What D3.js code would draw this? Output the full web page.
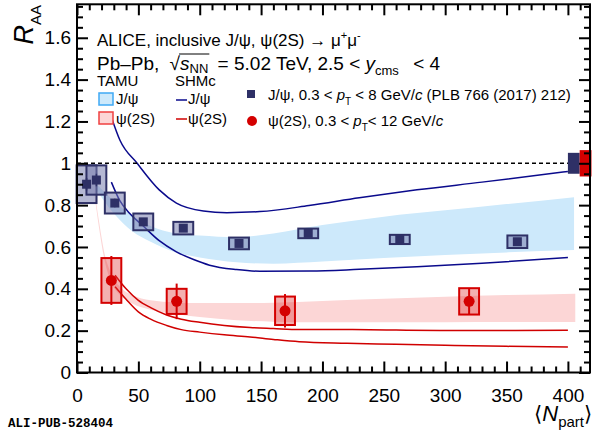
<!DOCTYPE html>
<html>
<head>
<meta charset="utf-8">
<script src="https://cdn.jsdelivr.net/npm/d3@7"></script>
<style>
  body { margin: 0; background: #fff; }
  svg text { font-family: "Liberation Sans", Arial, sans-serif; fill: #000; white-space: pre; }
</style>
</head>
<body>
<div id="chart"></div>
<script>
// ----------------------------------------------------------------
// Data
// ----------------------------------------------------------------

// ALICE inclusive J/psi (PLB 766 (2017) 212)
const jpsiNpart = [7.8, 15.8, 30.8, 54.0, 86.6, 132.0, 188.4, 263.0, 358.8];
const jpsiRaa   = [0.90, 0.92, 0.81, 0.72, 0.69, 0.617, 0.665, 0.636, 0.625];
const jpsiStat  = [0.03, 0.03, 0.02, 0.015, 0.015, 0.012, 0.01, 0.01, 0.012];
const jpsiSyst  = [0.09, 0.07, 0.05, 0.04, 0.03, 0.028, 0.023, 0.022, 0.03];

// ALICE psi(2S)
const psiNpart = [28.0, 81.2, 169.5, 319.5];
const psiRaa   = [0.44, 0.34, 0.295, 0.34];
const psiStat  = [0.117, 0.085, 0.08, 0.062];
const psiSyst  = [0.107, 0.06, 0.068, 0.063];

// global (correlated) uncertainties at R_AA = 1
const jpsiGlobal = 0.05;
const psiGlobal = 0.063;

// TAMU transport bands
const tamuJpsiNpart = [16, 30, 45, 60, 80, 100, 130, 160, 200, 250, 300, 350, 405];
const tamuJpsiHigh  = [0.90, 0.82, 0.75, 0.70, 0.665, 0.655, 0.647, 0.665, 0.705, 0.745, 0.775, 0.805, 0.838];
const tamuJpsiLow   = [0.87, 0.76, 0.675, 0.625, 0.575, 0.55, 0.527, 0.52, 0.53, 0.547, 0.562, 0.574, 0.585];

const tamuPsiNpart = [14, 18, 22, 28, 35, 45, 60, 80, 100, 130, 160, 200, 250, 300, 350, 406];
const tamuPsiHigh  = [0.88, 0.72, 0.58, 0.47, 0.41, 0.37, 0.345, 0.335, 0.332, 0.332, 0.334, 0.342, 0.352, 0.362, 0.37, 0.377];
const tamuPsiLow   = [0.86, 0.69, 0.55, 0.43, 0.37, 0.33, 0.30, 0.28, 0.265, 0.25, 0.243, 0.24, 0.24, 0.24, 0.241, 0.241];

// SHMc curves (upper / lower edge)
const shmJpsiNpart = [28, 35, 49, 67, 81, 103, 122, 149, 189, 230, 277, 330, 400];
const shmJpsiHigh  = [1.22, 1.11, 1.0, 0.873, 0.81, 0.772, 0.764, 0.769, 0.798, 0.835, 0.873, 0.91, 0.961];
const shmJpsiLowNpart = [28, 35, 43, 54, 67, 81, 95, 108, 130, 149, 190, 230, 277, 330, 400];
const shmJpsiLow   = [0.91, 0.82, 0.76, 0.70, 0.63, 0.577, 0.54, 0.513, 0.492, 0.484, 0.485, 0.493, 0.505, 0.522, 0.55];

const shmPsiNpart = [31, 40, 50, 60, 73, 85, 100, 120, 141, 160, 181, 220, 260, 300, 350, 400];
const shmPsiHigh  = [0.465, 0.40, 0.345, 0.31, 0.275, 0.255, 0.24, 0.225, 0.215, 0.21, 0.205, 0.205, 0.203, 0.201, 0.201, 0.202];
const shmPsiLow   = [0.41, 0.35, 0.29, 0.255, 0.225, 0.205, 0.193, 0.18, 0.17, 0.158, 0.147, 0.14, 0.135, 0.13, 0.125, 0.122];

// axes
const xMajor = [0, 50, 100, 150, 200, 250, 300, 350, 400];
const yMajor = [0, 0.2, 0.4, 0.6, 0.8, 1, 1.2, 1.4, 1.6];

// ----------------------------------------------------------------
// Setup
// ----------------------------------------------------------------

const width = 592, height = 430;
const navy = "#2e3066", red = "#d40000", lineNavy = "#0a0a8c", lineRed = "#d00000";

const svg = d3.select("#chart").append("svg")
  .attr("width", width)
  .attr("height", height);

const x = d3.scaleLinear().domain([0, 418]).range([77, 590]);
const y = d3.scaleLinear().domain([0, 1.76]).range([372.5, 4.3]);

// write a run of text pieces one after another, returns x positions
function richText(g, x0, y0, runs) {
  let cx = x0;
  const pos = [];
  runs.forEach(function (r) {
    const t = g.append("text")
      .attr("x", cx)
      .attr("y", y0 + (r.dy || 0))
      .style("font-size", r.size + "px")
      .style("font-style", r.italic ? "italic" : "normal")
      .text(r.t);
    const w = t.node().getComputedTextLength();
    pos.push([cx, cx + w]);
    cx += w + (r.gap || 0);
  });
  return pos;
}

// ----------------------------------------------------------------
// Model bands and curves
// ----------------------------------------------------------------

function bandArea(xs, lo, hi) {
  return d3.area()
    .x(function (d, i) { return x(xs[i]); })
    .y0(function (d, i) { return y(lo[i]); })
    .y1(function (d, i) { return y(hi[i]); })
    .curve(d3.curveMonotoneX)(xs);
}

function curve(xs, vs) {
  return d3.line()
    .x(function (d, i) { return x(xs[i]); })
    .y(function (d, i) { return y(vs[i]); })
    .curve(d3.curveMonotoneX)(xs);
}

svg.append("path").attr("d", bandArea(tamuJpsiNpart, tamuJpsiLow, tamuJpsiHigh))
  .attr("fill", "#cde9fb");
svg.append("path").attr("d", bandArea(tamuPsiNpart, tamuPsiLow, tamuPsiHigh))
  .attr("fill", "#fcd6d6");

[[shmJpsiNpart, shmJpsiHigh, lineNavy], [shmJpsiLowNpart, shmJpsiLow, lineNavy],
 [shmPsiNpart, shmPsiHigh, lineRed], [shmPsiNpart, shmPsiLow, lineRed]].forEach(function (c) {
  svg.append("path").attr("d", curve(c[0], c[1]))
    .attr("fill", "none").attr("stroke", c[2]).attr("stroke-width", 1.5);
});

// unity line
svg.append("line")
  .attr("x1", x(0)).attr("x2", x(400))
  .attr("y1", y(1)).attr("y2", y(1))
  .attr("stroke", "#000").attr("stroke-width", 1.5)
  .attr("stroke-dasharray", "4,3");

// ----------------------------------------------------------------
// Data points
// ----------------------------------------------------------------

const boxHalf = 8.1;

jpsiNpart.forEach(function (n, i) {
  svg.append("rect")
    .attr("x", x(n - boxHalf)).attr("width", x(n + boxHalf) - x(n - boxHalf))
    .attr("y", y(jpsiRaa[i] + jpsiSyst[i]))
    .attr("height", y(jpsiRaa[i] - jpsiSyst[i]) - y(jpsiRaa[i] + jpsiSyst[i]))
    .attr("fill", "rgba(120,125,175,0.55)")
    .attr("stroke", navy).attr("stroke-width", 2);
});
jpsiNpart.forEach(function (n, i) {
  svg.append("line")
    .attr("x1", x(n)).attr("x2", x(n))
    .attr("y1", y(jpsiRaa[i] + jpsiStat[i])).attr("y2", y(jpsiRaa[i] - jpsiStat[i]))
    .attr("stroke", navy).attr("stroke-width", 1.5);
  svg.append("rect")
    .attr("x", x(n) - 4.5).attr("y", y(jpsiRaa[i]) - 4.5)
    .attr("width", 9).attr("height", 9)
    .attr("fill", navy);
});

psiNpart.forEach(function (n, i) {
  svg.append("rect")
    .attr("x", x(n - boxHalf)).attr("width", x(n + boxHalf) - x(n - boxHalf))
    .attr("y", y(psiRaa[i] + psiSyst[i]))
    .attr("height", y(psiRaa[i] - psiSyst[i]) - y(psiRaa[i] + psiSyst[i]))
    .attr("fill", "rgba(225,60,60,0.4)")
    .attr("stroke", red).attr("stroke-width", 2);
  svg.append("line")
    .attr("x1", x(n)).attr("x2", x(n))
    .attr("y1", y(psiRaa[i] + psiStat[i])).attr("y2", y(psiRaa[i] - psiStat[i]))
    .attr("stroke", red).attr("stroke-width", 2);
  svg.append("circle")
    .attr("cx", x(n)).attr("cy", y(psiRaa[i])).attr("r", 5.5)
    .attr("fill", red);
});

// global uncertainty boxes
svg.append("rect")
  .attr("x", x(400)).attr("width", x(409.6) - x(400))
  .attr("y", y(1 + jpsiGlobal)).attr("height", y(1 - jpsiGlobal) - y(1 + jpsiGlobal))
  .attr("fill", navy);
svg.append("rect")
  .attr("x", x(409.6)).attr("width", x(419.2) - x(409.6))
  .attr("y", y(1 + psiGlobal)).attr("height", y(1 - psiGlobal) - y(1 + psiGlobal))
  .attr("fill", red);

// ----------------------------------------------------------------
// Axes (ticks inside on all four sides)
// ----------------------------------------------------------------

const xMinor = d3.range(0, 418, 10).filter(function (v) { return v % 50 !== 0; });
const yMinor = d3.range(0, 1.76, 0.05).filter(function (v) { return Math.abs(v * 5 - Math.round(v * 5)) > 1e-6; });

function styleAxis(g) {
  g.select(".domain").remove();
  g.selectAll(".tick line").attr("stroke", "#000").attr("stroke-width", 2);
  g.selectAll(".tick text").style("font-size", "19px").attr("fill", "#000");
}

const y0 = y.range()[0], yTop = y.range()[1];

svg.append("g").attr("transform", "translate(0," + y0 + ")")
  .call(d3.axisBottom(x).tickValues(xMajor).tickSize(-11).tickPadding(16).tickFormat(d3.format("d")))
  .call(styleAxis);
svg.append("g").attr("transform", "translate(0," + y0 + ")")
  .call(d3.axisBottom(x).tickValues(xMinor).tickSize(-6).tickFormat(""))
  .call(styleAxis);
svg.append("g").attr("transform", "translate(0," + yTop + ")")
  .call(d3.axisTop(x).tickValues(xMajor).tickSize(-11).tickFormat(""))
  .call(styleAxis);
svg.append("g").attr("transform", "translate(0," + yTop + ")")
  .call(d3.axisTop(x).tickValues(xMinor).tickSize(-6).tickFormat(""))
  .call(styleAxis);

svg.append("g").attr("transform", "translate(" + x(0) + ",0)")
  .call(d3.axisLeft(y).tickValues(yMajor).tickSize(-11).tickPadding(6).tickFormat(function (d) { return d3.format("")(+d.toFixed(1)); }))
  .call(styleAxis);
svg.append("g").attr("transform", "translate(" + x(0) + ",0)")
  .call(d3.axisLeft(y).tickValues(yMinor).tickSize(-6).tickFormat(""))
  .call(styleAxis);
svg.append("g").attr("transform", "translate(" + x.range()[1] + ",0)")
  .call(d3.axisRight(y).tickValues(yMajor).tickSize(-11).tickFormat(""))
  .call(styleAxis);
svg.append("g").attr("transform", "translate(" + x.range()[1] + ",0)")
  .call(d3.axisRight(y).tickValues(yMinor).tickSize(-6).tickFormat(""))
  .call(styleAxis);

// frame
svg.append("rect")
  .attr("x", x.range()[0]).attr("y", yTop)
  .attr("width", x.range()[1] - x.range()[0]).attr("height", y0 - yTop)
  .attr("fill", "none").attr("stroke", "#000").attr("stroke-width", 2);

// axis titles
const yTitle = svg.append("text")
  .attr("transform", "translate(33,5) rotate(-90)")
  .attr("text-anchor", "end");
yTitle.append("tspan").style("font-size", "27px").style("font-style", "italic").text("R");
yTitle.append("tspan").style("font-size", "15px").attr("dy", 8).text("AA");

const xTitle = svg.append("text")
  .attr("x", 592).attr("y", 421)
  .attr("text-anchor", "end");
xTitle.append("tspan").style("font-size", "21px").text("\u27E8");
xTitle.append("tspan").style("font-size", "22px").style("font-style", "italic").text("N");
xTitle.append("tspan").style("font-size", "15px").attr("dy", 6).text("part");
xTitle.append("tspan").style("font-size", "21px").attr("dy", -6).text("\u27E9");

// ----------------------------------------------------------------
// Legend
// ----------------------------------------------------------------

richText(svg, 97, 46, [
  { t: "ALICE, inclusive J/\u03C8, \u03C8(2S) \u2192 \u03BC", size: 17 },
  { t: "+", size: 11, dy: -7 },
  { t: "\u03BC", size: 17 },
  { t: "-", size: 11, dy: -7 }
]);

const p2 = richText(svg, 97, 70, [
  { t: "Pb\u2013Pb, ", size: 19, gap: 5 },
  { t: "\u221A", size: 19 },
  { t: "s", size: 19, italic: true },
  { t: "NN", size: 13, dy: 3, gap: 4 },
  { t: " = 5.02 TeV, 2.5 < ", size: 19 },
  { t: "y", size: 19, italic: true },
  { t: "cms", size: 13, dy: 5, gap: 9 },
  { t: " < 4", size: 19 }
]);
svg.append("line")
  .attr("x1", p2[1][1] - 1).attr("x2", p2[3][1] + 1)
  .attr("y1", 54).attr("y2", 54)
  .attr("stroke", "#000").attr("stroke-width", 1);

richText(svg, 97, 86, [{ t: "TAMU", size: 15 }]);
richText(svg, 175, 86, [{ t: "SHMc", size: 15 }]);

svg.append("rect").attr("x", 99).attr("y", 93).attr("width", 14).attr("height", 12)
  .attr("fill", "#cde9fb").attr("stroke", "#3fa9f5").attr("stroke-width", 1.5);
svg.append("rect").attr("x", 99).attr("y", 112).attr("width", 14).attr("height", 12)
  .attr("fill", "#fcd6d6").attr("stroke", "#f04040").attr("stroke-width", 1.5);
richText(svg, 116, 104, [{ t: "J/\u03C8", size: 15 }]);
richText(svg, 116, 124, [{ t: "\u03C8(2S)", size: 15 }]);

svg.append("line").attr("x1", 176).attr("x2", 187).attr("y1", 100).attr("y2", 100)
  .attr("stroke", lineNavy).attr("stroke-width", 1.5);
svg.append("line").attr("x1", 176).attr("x2", 187).attr("y1", 119).attr("y2", 119)
  .attr("stroke", lineRed).attr("stroke-width", 1.5);
richText(svg, 188, 104, [{ t: "J/\u03C8", size: 15 }]);
richText(svg, 188, 124, [{ t: "\u03C8(2S)", size: 15 }]);

svg.append("rect").attr("x", 247).attr("y", 90).attr("width", 8).attr("height", 8).attr("fill", navy);
svg.append("circle").attr("cx", 252).attr("cy", 121).attr("r", 5).attr("fill", red);

richText(svg, 268, 100, [
  { t: "J/\u03C8, 0.3 < ", size: 15 },
  { t: "p", size: 15, italic: true },
  { t: "T", size: 10, dy: 5 },
  { t: " < 8 GeV/", size: 15 },
  { t: "c", size: 15, italic: true },
  { t: " (PLB 766 (2017) 212)", size: 15 }
]);
richText(svg, 268, 126, [
  { t: "\u03C8(2S), 0.3 < ", size: 15 },
  { t: "p", size: 15, italic: true },
  { t: "T", size: 10, dy: 5 },
  { t: "< 12 GeV/", size: 15 },
  { t: "c", size: 15, italic: true }
]);

// publication tag
svg.append("text")
  .attr("x", 8).attr("y", 427)
  .style("font-family", "'Liberation Mono', 'DejaVu Sans Mono', monospace")
  .style("font-size", "12.5px").style("font-weight", "bold")
  .attr("fill", "#b0b0b0")
  .text("ALI-PUB-528404");
</script>
</body>
</html>
